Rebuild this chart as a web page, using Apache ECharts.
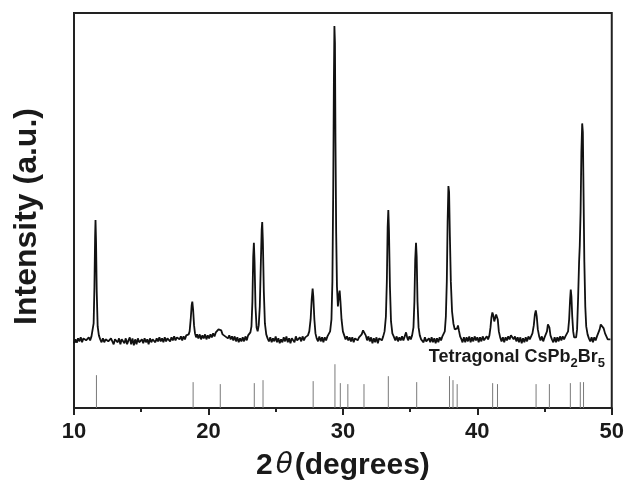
<!DOCTYPE html>
<html>
<head>
<meta charset="utf-8">
<title>XRD CsPb2Br5</title>
<script src="https://cdn.jsdelivr.net/npm/echarts/dist/echarts.min.js"></script>
<style>
  html, body { margin: 0; padding: 0; background: #fff; }
  #main { width: 627px; height: 486px; }
</style>
</head>
<body>
<div id="main"></div>
<script type="text/javascript">
// measured scan: [2theta, intensity] (intensity in a.u., baseline ~0)
var scan = [
  [10.0,-2],[10.1,2],[10.2,-1],[10.3,3],[10.4,0],[10.5,4],[10.6,-1],[10.7,3],[10.8,5],[10.9,1],[11.0,-1],[11.1,4],[11.2,1],[11.3,5],
  [11.38,6],[11.46,18],[11.52,55],[11.57,105],[11.6,122],[11.64,100],[11.69,50],[11.76,15],[11.85,6],[11.95,2],
  [12.05,-1],[12.15,3],[12.25,-1],[12.35,2],[12.45,4],[12.55,0],[12.65,-2],[12.75,3],[12.85,0],[12.95,-3],[13.05,2],[13.15,4],
  [13.25,-1],[13.35,3],[13.45,-3],[13.55,2],[13.65,4],[13.75,-2],[13.85,3],[13.95,-3],[14.05,1],[14.15,4],[14.25,-3],
  [14.35,3],[14.45,-4],[14.55,2],[14.65,-3],[14.75,3],[14.85,-1],[14.95,-3],[15.05,2],[15.15,-2],[15.25,3],[15.35,-1],
  [15.45,2],[15.55,-3],[15.65,3],[15.75,-1],[15.85,2],[15.95,4],[16.05,-1],[16.15,3],[16.25,0],[16.35,4],[16.45,0],
  [16.55,3],[16.65,-1],[16.75,4],[16.85,0],[16.95,3],[17.05,5],[17.15,0],[17.25,4],[17.35,1],[17.45,5],[17.55,1],
  [17.65,4],[17.75,6],[17.85,2],[17.95,5],[18.05,1],[18.15,5],[18.25,2],[18.35,6],[18.45,4],[18.53,7],
  [18.6,10],[18.68,22],[18.75,36],[18.8,40],[18.86,32],[18.93,16],[19.0,8],[19.08,4],
  [19.15,7],[19.25,3],[19.35,7],[19.45,2],[19.55,6],[19.65,3],[19.75,7],[19.85,2],[19.95,6],[20.05,3],[20.15,7],
  [20.25,4],[20.35,8],[20.45,5],[20.55,9],[20.65,8],[20.75,12],[20.85,10],[20.95,11],[21.05,7],[21.15,9],[21.25,5],
  [21.35,7],[21.45,3],[21.55,6],[21.65,2],[21.75,5],[21.85,1],[21.95,5],[22.05,0],[22.15,4],[22.25,-1],[22.35,3],
  [22.45,0],[22.55,4],[22.65,0],[22.75,5],[22.85,1],[22.95,6],[23.05,4],[23.12,9],
  [23.2,15],[23.27,40],[23.33,85],[23.38,99],[23.43,80],[23.5,35],[23.58,14],[23.66,10],[23.74,16],[23.82,35],[23.9,80],
  [23.96,112],[24.0,120],[24.05,100],[24.12,50],[24.2,18],[24.3,7],[24.4,3],
  [24.5,0],[24.6,4],[24.7,-1],[24.8,3],[24.9,0],[25.0,5],[25.1,-1],[25.2,3],[25.3,-2],[25.4,2],[25.5,-1],[25.6,4],
  [25.7,0],[25.8,5],[25.9,-1],[26.0,3],[26.1,-2],[26.2,3],[26.3,4],[26.4,-1],[26.5,5],[26.6,1],[26.7,-1],[26.8,4],
  [26.9,0],[27.0,5],[27.1,1],[27.2,4],[27.3,2],[27.4,6],
  [27.5,10],[27.6,22],[27.68,42],[27.75,53],[27.8,45],[27.88,22],[27.96,8],[28.05,3],
  [28.15,0],[28.25,5],[28.35,0],[28.45,4],[28.55,-1],[28.65,4],[28.75,1],[28.85,5],[28.95,6],[29.05,10],
  [29.15,22],[29.22,60],[29.28,150],[29.33,260],[29.37,317],[29.41,300],[29.45,200],[29.5,110],[29.56,55],[29.63,35],
  [29.7,46],[29.76,51],[29.82,40],[29.9,22],[30.0,10],[30.1,6],
  [30.2,2],[30.3,5],[30.4,1],[30.5,4],[30.6,0],[30.7,4],[30.8,-1],[30.9,3],[31.0,5],[31.1,1],[31.2,4],[31.3,2],[31.4,7],
  [31.5,11],[31.55,13],[31.62,10],[31.7,6],[31.8,1],[31.9,5],[32.0,0],[32.1,4],[32.2,-2],[32.3,3],[32.4,-1],[32.5,4],
  [32.6,-2],[32.7,3],[32.8,5],[32.9,1],[33.0,5],[33.1,10],
  [33.2,25],[33.27,60],[33.33,115],[33.38,132],[33.43,110],[33.5,55],[33.58,20],[33.68,8],[33.78,5],
  [33.9,1],[34.0,5],[34.1,0],[34.2,4],[34.3,1],[34.4,5],[34.5,1],[34.6,5],[34.7,9],[34.78,4],[34.85,1],[34.95,5],
  [35.05,2],[35.15,6],
  [35.25,14],[35.32,40],[35.38,82],[35.44,99],[35.49,85],[35.55,40],[35.63,14],[35.72,6],[35.82,2],
  [35.9,4],[36.0,-1],[36.1,4],[36.2,0],[36.3,-2],[36.4,3],[36.5,-1],[36.6,4],[36.7,-1],[36.8,3],[36.9,-2],[37.0,3],
  [37.1,-1],[37.2,4],[37.3,1],[37.4,5],[37.5,6],[37.58,10],
  [37.66,25],[37.73,60],[37.79,120],[37.85,156],[37.9,150],[37.96,105],[38.03,60],[38.12,30],[38.22,18],[38.32,12],
  [38.42,10],[38.5,13],[38.56,16],[38.63,11],[38.72,5],[38.82,2],
  [38.9,-1],[39.0,4],[39.1,-1],[39.2,4],[39.3,0],[39.4,5],[39.5,-1],[39.6,4],[39.7,0],[39.8,5],[39.9,1],[40.0,4],
  [40.1,-1],[40.2,4],[40.3,0],[40.4,5],[40.5,1],[40.6,3],[40.7,5],[40.8,2],[40.9,6],
  [40.98,14],[41.05,24],[41.12,29],[41.19,26],[41.26,20],[41.33,22],[41.4,27],[41.46,27],[41.52,22],[41.6,10],[41.7,4],
  [41.8,0],[41.9,4],[42.0,-1],[42.1,4],[42.2,1],[42.3,5],[42.4,2],[42.5,6],[42.6,7],[42.7,2],[42.8,5],[42.9,0],[43.0,4],
  [43.1,-1],[43.2,4],[43.3,-2],[43.4,3],[43.5,-1],[43.6,4],[43.7,0],[43.8,5],[43.9,2],[44.0,5],[44.1,8],
  [44.2,16],[44.28,27],[44.35,31],[44.42,25],[44.5,12],[44.6,5],[44.7,1],[44.8,5],[44.9,0],[45.0,4],[45.1,5],[45.18,10],
  [45.25,17],[45.3,19],[45.36,14],[45.44,6],[45.55,2],
  [45.65,-1],[45.75,4],[45.85,-1],[45.95,4],[46.05,0],[46.15,5],[46.25,1],[46.35,5],[46.45,2],[46.55,5],[46.65,6],[46.75,10],
  [46.83,22],[46.9,42],[46.95,52],[47.0,45],[47.06,25],[47.13,10],[47.2,4],[47.28,2],[47.35,4],[47.42,12],
  [47.5,45],[47.57,80],[47.62,96],[47.68,130],[47.74,190],[47.8,219],[47.85,210],[47.9,150],[47.96,80],[48.03,35],
  [48.1,15],[48.2,7],[48.3,3],
  [48.4,0],[48.5,4],[48.6,-1],[48.7,4],[48.8,1],[48.9,5],[49.0,6],[49.1,12],
  [49.18,17],[49.25,19],[49.32,17],[49.4,13],[49.5,8],[49.6,5],[49.7,2],[49.8,4],[49.9,2]
];

// reference pattern (tetragonal CsPb2Br5): positions and relative heights
var refPos = [11.67, 18.86, 20.88, 23.41, 24.06, 27.79, 29.41, 29.81, 30.37, 31.57, 33.38, 35.49, 37.93,
              38.19, 38.5, 41.14, 41.5, 44.37, 45.36, 46.92, 47.66, 47.9];
var refHeight = [33, 26, 24, 25, 28, 27, 44, 25, 24, 24, 32, 26, 32, 28, 24, 25, 24, 24, 24, 25, 26, 26];

var xTicks = [10, 20, 30, 40, 50];
var yMin = -67, yMax = 330;

var myChart = echarts.init(document.getElementById('main'));
var txt = '#1a1a1a';
var font = 'Liberation Sans';

option = {
    animation: false,
    backgroundColor: '#fff',
    grid: {
        left: 74, right: 15, top: 13, bottom: 76,
        show: true, borderColor: '#222', borderWidth: 2
    },
    xAxis: {
        type: 'value',
        min: xTicks[0], max: xTicks[xTicks.length - 1], interval: 10,
        axisLine: { onZero: false, lineStyle: { color: '#222', width: 2 } },
        axisTick: { length: 7, lineStyle: { color: '#222', width: 2 } },
        minorTick: { show: true, splitNumber: 2, length: 4, lineStyle: { color: '#222', width: 2 } },
        splitLine: { show: false },
        axisLabel: { color: txt, fontSize: 22, fontWeight: 'bold', fontFamily: font, margin: 13 },
        name: '{a|2}{t|θ}{a|(degrees)}',
        nameLocation: 'middle',
        nameGap: 43,
        nameTextStyle: {
            rich: {
                a: { fontSize: 30, fontWeight: 'bold', fontFamily: font, color: txt },
                t: { fontSize: 28, fontStyle: 'italic', fontFamily: 'DejaVu Sans', color: txt, padding: [0, 2, 0, 3] }
            }
        }
    },
    yAxis: {
        type: 'value',
        min: yMin, max: yMax,
        axisLine: { onZero: false, lineStyle: { color: '#222', width: 2 } },
        axisTick: { show: true, inside: true, length: 4, customValues: [0], lineStyle: { color: '#222', width: 1.5 } },
        axisLabel: { show: false },
        splitLine: { show: false },
        name: 'Intensity (a.u.)',
        nameLocation: 'middle',
        nameGap: 31,
        nameTextStyle: { fontSize: 32, fontWeight: 'bold', fontFamily: font, color: txt, padding: [0, 12, 0, 0] }
    },
    graphic: [{
        type: 'text',
        right: 22,
        top: 348,
        style: {
            text: '{n|Tetragonal CsPb}{s|2}{n|Br}{s|5}',
            rich: {
                n: { fontSize: 18, fontWeight: 'bold', fontFamily: font, fill: txt, lineHeight: 26, verticalAlign: 'top' },
                s: { fontSize: 13, fontWeight: 'bold', fontFamily: font, fill: txt, lineHeight: 26, verticalAlign: 'top', padding: [9, 0, 0, 0] }
            }
        }
    }],
    series: [{
        type: 'line',
        data: scan,
        showSymbol: false,
        lineStyle: { color: '#111', width: 1.8 }
    }, {
        type: 'custom',
        data: refPos.map(function (p, i) { return [p, refHeight[i]]; }),
        renderItem: function (params, api) {
            var p0 = api.coord([api.value(0), yMin]);
            var p1 = api.coord([api.value(0), yMin + api.value(1)]);
            return {
                type: 'line',
                shape: { x1: p0[0], y1: p0[1], x2: p1[0], y2: p1[1] },
                style: { stroke: '#7a7a7a', lineWidth: 1 }
            };
        }
    }]
};
myChart.setOption(option);
</script>
</body>
</html>
